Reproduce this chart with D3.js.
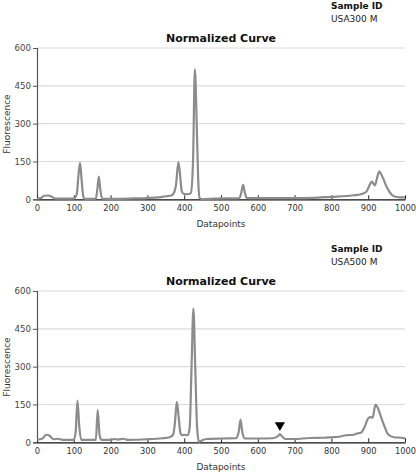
<!DOCTYPE html>
<html><head><meta charset="utf-8">
<script src="https://cdn.jsdelivr.net/npm/d3@7"></script>
<style>body{margin:0;background:#fff}svg{display:block;font-family:"DejaVu Sans",Verdana,sans-serif}</style>
</head><body><svg id="c" width="416" height="472"></svg>
<script>
const xTicks = [0,100,200,300,400,500,600,700,800,900,1000];
const yTicks = [0,150,300,450,600];
const sampleIds = ["USA300 M","USA500 M"];
const titleText = "Normalized Curve";

const x1 = [0,10,20,30,40,50,100,108,113,117,121,126,130,160,164,168,172,177,200,250,300,330,350,365,372,378,384,388,393,398,410,418,424,429,434,438,442,450,480,550,555,560,565,570,600,700,750,800,840,860,880,895,905,910,918,925,930,940,950,960,970,985,1000];
const y1 = [3,5,14,15,10,3,3,20,100,145,80,10,2,3,40,90,40,3,2,3,5,8,12,15,25,60,148,110,35,22,20,25,150,515,300,80,5,0,3,5,25,57,25,5,5,5,6,10,13,16,20,30,60,70,55,90,110,85,50,25,12,8,8];

const x2 = [0,15,25,35,45,55,70,100,105,110,115,120,160,165,170,175,200,210,220,235,245,300,340,360,370,375,380,385,390,395,400,410,415,420,425,430,435,440,445,460,500,540,548,553,558,565,600,640,655,660,665,675,700,740,780,800,820,840,860,870,880,890,900,905,912,920,925,935,945,955,970,990,1000];
const y2 = [10,15,30,25,12,14,10,10,40,165,60,10,10,128,30,10,10,13,11,14,10,12,16,20,30,80,160,100,35,28,30,28,60,300,530,300,60,2,5,13,15,16,40,90,40,15,15,16,25,33,25,13,13,17,18,20,22,28,30,35,38,60,95,100,98,150,140,100,60,30,20,18,15];
const marker2 = {x:660, y:68};

const svg = d3.select("#c");
const xs = d3.scaleLinear().domain([0,1000]).range([37,405]);

function panel(top, xv, yv, id, marker){
  const y0 = top + 199.3, yTop = top + 48;
  const ys = d3.scaleLinear().domain([0,600]).range([y0,yTop]);
  const g = svg.append("g");
  g.selectAll("line.grid").data(yTicks.filter(d=>d>0)).join("line")
    .attr("x1",37).attr("x2",405).attr("y1",d=>ys(d)).attr("y2",d=>ys(d))
    .attr("stroke","#dcdcdc").attr("stroke-width",1.2);
  const ya = g.append("g").attr("transform","translate(37,0)")
    .call(d3.axisLeft(ys).tickValues(yTicks).tickFormat(d3.format("d")).tickSize(4).tickPadding(2));
  ya.select(".domain").attr("stroke","#555").attr("stroke-width",1.2);
  ya.selectAll(".tick line").attr("stroke","#555");
  ya.selectAll("text").attr("font-size",8.6).attr("fill","#444").attr("font-family","DejaVu Sans");
  const xa = g.append("g").attr("transform",`translate(0,${y0})`)
    .call(d3.axisBottom(xs).tickValues(xTicks).tickFormat(d3.format("d")).tickSizeInner(-4).tickSizeOuter(0).tickPadding(6));
  xa.select(".domain").attr("stroke","#111").attr("stroke-width",1.3);
  xa.selectAll(".tick line").attr("stroke","#222");
  xa.selectAll("text").attr("font-size",8.3).attr("fill","#333").attr("font-family","DejaVu Sans");
  const data = xv.map((d,i)=>[d,yv[i]]);
  g.append("path").datum(data)
    .attr("fill","none").attr("stroke","#8c8c8c").attr("stroke-width",2.2)
    .attr("stroke-linejoin","round")
    .attr("d", d3.line().x(d=>xs(d[0])).y(d=>ys(d[1])).curve(d3.curveMonotoneX));
  if(marker){
    g.append("path").attr("d", d3.symbol().type(d3.symbolTriangle).size(45)())
      .attr("transform",`translate(${xs(marker.x)},${ys(marker.y)}) rotate(180)`)
      .attr("fill","#000");
  }
  g.append("text").attr("x",331).attr("y",top+8.5).attr("font-size",9).attr("font-weight","bold").attr("fill","#111").text("Sample ID");
  g.append("text").attr("x",331).attr("y",top+21.5).attr("font-size",9).attr("fill","#222").text(id);
  g.append("text").attr("x",221).attr("y",top+42).attr("text-anchor","middle").attr("font-size",11).attr("font-weight","bold").attr("fill","#111").text(titleText);
  g.append("text").attr("x",221).attr("y",top+226.5).attr("text-anchor","middle").attr("font-size",9).attr("fill","#333").text("Datapoints");
  g.append("text").attr("transform",`translate(10,${top+124}) rotate(-90)`).attr("text-anchor","middle").attr("font-size",9).attr("fill","#333").text("Fluorescence");
}
panel(0, x1, y1, sampleIds[0], null);
panel(243, x2, y2, sampleIds[1], marker2);
</script></body></html>
